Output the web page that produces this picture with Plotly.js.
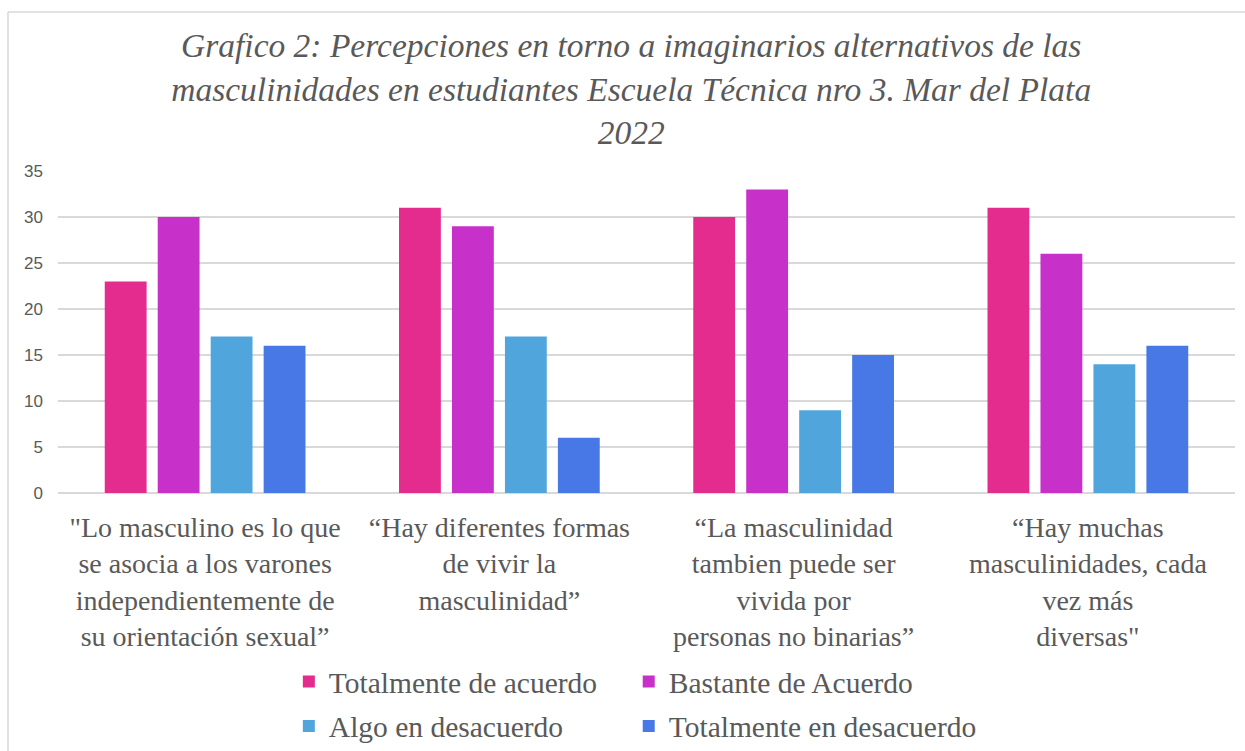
<!DOCTYPE html>
<html>
<head>
<meta charset="utf-8">
<script src="https://cdn.plot.ly/plotly-3.0.1.min.js"></script>
<style>html,body{margin:0;padding:0;background:#fff;}#chart{width:1245px;height:751px;}</style>
</head>
<body>
<div id="chart"></div>
<script>
const categories = [
  "\"Lo masculino es lo que<br>se asocia a los varones<br>independientemente de<br>su orientación sexual”",
  "“Hay diferentes formas<br>de vivir la<br>masculinidad”",
  "“La masculinidad<br>tambien puede ser<br>vivida por<br>personas no binarias”",
  "“Hay muchas<br>masculinidades, cada<br>vez más<br>diversas\""
];
const seriesNames = ["Totalmente de acuerdo", "Bastante de Acuerdo", "Algo en desacuerdo", "Totalmente en desacuerdo"];
const totalmenteAcuerdo = [23, 31, 30, 31];
const bastanteAcuerdo = [30, 29, 33, 26];
const algoDesacuerdo = [17, 17, 9, 14];
const totalmenteDesacuerdo = [16, 6, 15, 16];
const yTicks = [0, 5, 10, 15, 20, 25, 30, 35];

const seriesValues = [totalmenteAcuerdo, bastanteAcuerdo, algoDesacuerdo, totalmenteDesacuerdo];
const colors = ["#E32C8E", "#C731C9", "#50A6DC", "#4878E6"];
const legends = ["legend", "legend2", "legend3", "legend4"];

const traces = seriesValues.map((vals, i) => ({
  type: "bar",
  name: seriesNames[i],
  x: categories,
  y: vals,
  marker: {color: colors[i]},
  legend: legends[i],
  hoverinfo: "y+name"
}));

const serif = "'Liberation Serif', 'Times New Roman', serif";
const legendCommon = {
  orientation: "h",
  xref: "container", yref: "container",
  xanchor: "left", yanchor: "middle",
  font: {family: serif, size: 29.5, color: "#595959"},
  itemwidth: 30,
  bgcolor: "rgba(0,0,0,0)"
};
const colX = [0.232, 0.505];
const rowY = [0.092, 0.033];

const layout = {
  width: 1245, height: 751,
  paper_bgcolor: "#fff", plot_bgcolor: "#fff",
  font: {family: serif, color: "#595959"},
  margin: {l: 58, r: 10, t: 171, b: 258},
  title: {
    text: "Grafico 2: Percepciones en torno a imaginarios alternativos de las<br>masculinidades en estudiantes Escuela Técnica nro 3. Mar del Plata<br>2022",
    font: {family: serif, size: 33.5, color: "#595959", style: "italic"},
    xref: "container", x: 0.507, xanchor: "center",
    yref: "container", y: 0.924, yanchor: "top"
  },
  barmode: "group",
  bargap: 0.28,
  bargroupgap: 0.21,
  xaxis: {
    type: "category",
    tickfont: {family: serif, size: 28, color: "#595959"},
    showgrid: false, zeroline: false, showline: false,
    ticks: "", ticklen: 0, ticklabelstandoff: 15
  },
  yaxis: {
    range: [0, 35],
    tickvals: yTicks,
    tickfont: {family: "'Liberation Sans', Arial, sans-serif", size: 17, color: "#595959"},
    gridcolor: "#D9D9D9", gridwidth: 1.5,
    zeroline: true, zerolinecolor: "#D9D9D9", zerolinewidth: 1.5,
    showline: false, ticks: "", ticklabelstandoff: 14
  },
  legend: Object.assign({}, legendCommon, {x: colX[0], y: rowY[0]}),
  legend2: Object.assign({}, legendCommon, {x: colX[1], y: rowY[0]}),
  legend3: Object.assign({}, legendCommon, {x: colX[0], y: rowY[1]}),
  legend4: Object.assign({}, legendCommon, {x: colX[1], y: rowY[1]}),
  shapes: [
    {type: "line", xref: "paper", yref: "paper",
     x0: (8 - 58) / 1177, x1: (8 - 58) / 1177, y0: -1, y1: (493 - 12) / 322,
     line: {color: "#D9D9D9", width: 1.5}},
    {type: "line", xref: "paper", yref: "paper",
     x0: (8 - 58) / 1177, x1: 1.2, y0: (493 - 12) / 322, y1: (493 - 12) / 322,
     line: {color: "#D9D9D9", width: 1.5}}
  ],
  showlegend: true
};

Plotly.newPlot("chart", traces, layout, {displayModeBar: false, responsive: false});
</script>
</body>
</html>
